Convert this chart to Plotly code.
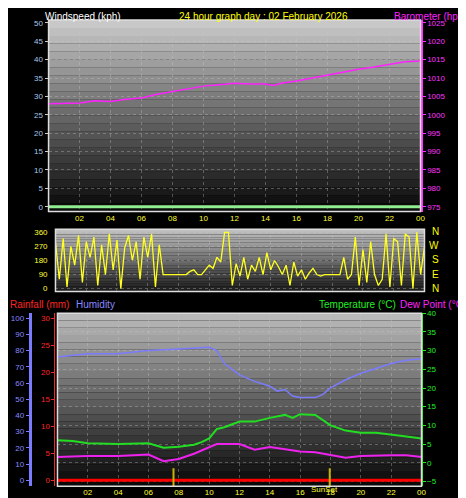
import plotly.graph_objects as go

W, H = 466, 498

# --- data ---
baro_hours = [0, 1, 2, 3, 4, 5, 6, 7, 8, 9, 10, 11, 12, 13, 14, 14.5, 15, 16, 17, 18, 19, 20, 21, 22, 23, 24]
baro_hpa = [1003.0, 1003.0, 1003.2, 1003.8, 1003.6, 1004.2, 1004.6, 1005.6, 1006.4, 1007.0, 1007.8, 1008.2, 1008.6, 1008.4, 1008.4, 1008.0, 1008.6, 1009.2, 1010.0, 1010.8, 1011.6, 1012.4, 1013.0, 1013.8, 1014.4, 1014.6]
wind_hours = [0, 24]
wind_kph = [0, 0]

dir_hours = [i * 0.25 for i in range(97)]
dir_deg = [
    300, 60, 320, 10, 270, 150, 340, 40, 300, 200, 330, 20, 280, 90, 350, 120,
    310, 0, 260, 340, 180, 300, 60, 330, 200, 350, 10, 280, 90, 90, 90, 90,
    90, 90, 90, 110, 120, 90, 90, 120, 150, 130, 200, 170, 360, 360, 20, 160,
    80, 200, 60, 150, 110, 200, 90, 230, 120, 180, 140, 90, 150, 20, 170, 80,
    120, 60, 100, 130, 90, 80, 90, 90, 90, 90, 90, 200, 60, 90, 330, 20,
    250, 40, 300, 90, 20, 60, 350, 10, 320, 300, 20, 350, 330, 0, 360, 90, 270,
]

hum_hours = [0, 2, 4, 6, 8, 10, 10.5, 11, 12, 13, 14, 14.5, 15, 15.5, 16, 17, 17.5, 18, 19, 20, 21, 22, 23, 24]
humidity = [76, 78, 78, 80, 81, 82, 80, 72, 65, 61, 58, 55, 56, 52, 51, 51, 53, 57, 62, 66, 69, 72, 74, 75]

temp_hours = [0, 1, 2, 4, 6, 7, 8, 9, 9.5, 10, 10.5, 11, 12, 13, 14, 15, 15.5, 16, 17, 18, 19, 20, 21, 22, 23, 24]
temperature = [6.0, 5.8, 5.2, 5.0, 5.2, 4.0, 4.3, 4.8, 5.5, 6.5, 9.0, 9.5, 11.0, 11.0, 12.0, 12.8, 12.0, 13.0, 12.8, 10.0, 8.6, 8.0, 8.0, 7.6, 7.0, 6.5]
dew_hours = [0, 2, 4, 6, 7, 8, 9, 10, 10.5, 11, 12, 13, 14, 15, 16, 17, 18, 19, 20, 21, 22, 23, 24]
dewpoint = [1.5, 1.8, 1.8, 2.2, 0.4, 1.0, 2.4, 4.0, 5.0, 5.0, 5.0, 3.5, 4.2, 3.6, 3.0, 2.8, 2.0, 1.3, 1.8, 2.0, 2.0, 2.0, 1.5]
rain_hours = [0, 24]
rain_mm = [0, 0]
sun_hours = [7.65, 17.95]

tick_vals = [2, 4, 6, 8, 10, 12, 14, 16, 18, 20, 22, 24]
tick_text = ["02", "04", "06", "08", "10", "12", "14", "16", "18", "20", "22", "00"]

FONT = "Liberation Sans"


def px_x(p):
    return p / W


def px_y(p):
    return 1 - p / H


fig = go.Figure()

# top panel
fig.add_trace(go.Scatter(x=wind_hours, y=wind_kph, mode="lines", line=dict(color="#90ee90", width=3),
                         xaxis="x", yaxis="y"))
fig.add_trace(go.Scatter(x=baro_hours, y=baro_hpa, mode="lines", line=dict(color="#ff22ff", width=1.5),
                         xaxis="x", yaxis="y2"))
# wind direction
fig.add_trace(go.Scatter(x=dir_hours, y=dir_deg, mode="lines", line=dict(color="#ffff22", width=1.3),
                         xaxis="x2", yaxis="y3"))
# bottom panel
fig.add_trace(go.Scatter(x=hum_hours, y=humidity, mode="lines", line=dict(color="#7b7bff", width=1.5),
                         xaxis="x3", yaxis="y4"))
fig.add_trace(go.Scatter(x=rain_hours, y=rain_mm, mode="lines", line=dict(color="#ff0000", width=3),
                         xaxis="x3", yaxis="y5"))
fig.add_trace(go.Scatter(x=temp_hours, y=temperature, mode="lines", line=dict(color="#22dd22", width=2),
                         xaxis="x3", yaxis="y6"))
fig.add_trace(go.Scatter(x=dew_hours, y=dewpoint, mode="lines", line=dict(color="#ee22ee", width=2),
                         xaxis="x3", yaxis="y6"))
for h in sun_hours:
    fig.add_trace(go.Scatter(x=[h, h], y=[-6.3, -1.5], mode="lines", line=dict(color="#c8b400", width=2),
                             xaxis="x3", yaxis="y6"))

panels = [  # (x0, x1, y0, y1) in pixels, light -> dark gradient
    (41, 417, 8, 202, 200, 10),
    (48, 421, 220, 283, 190, 30),
    (50, 418, 305, 480, 185, 10),
]
shapes = []
for x0, x1, y0, y1, top, bot in panels:
    n = 24
    for i in range(n):
        g = int(top + (bot - top) * i / (n - 1))
        shapes.append(dict(type="rect", xref="paper", yref="paper", layer="below",
                           x0=px_x(x0), x1=px_x(x1),
                           y0=px_y(y0 + (y1 - y0) * (i + 1) / n), y1=px_y(y0 + (y1 - y0) * i / n),
                           fillcolor=f"rgb({g},{g},{g})", line=dict(width=0)))
    shapes.append(dict(type="rect", xref="paper", yref="paper", x0=px_x(x0), x1=px_x(x1),
                       y0=px_y(y1), y1=px_y(y0), line=dict(color="#dddddd", width=1.5)))

grid = dict(showgrid=True, gridcolor="rgba(200,200,200,0.35)", griddash="dot", zeroline=False)
tickf = dict(size=8, family=FONT)

xcommon = dict(range=[0, 24], tickvals=tick_vals, ticktext=tick_text, tickfont=dict(color="#ffff33", **tickf),
               ticks="", **grid)

fig.update_layout(
    width=W, height=H, margin=dict(l=0, r=0, t=0, b=0),
    paper_bgcolor="black", plot_bgcolor="rgba(0,0,0,0)", showlegend=False,
    font=dict(family=FONT, size=10),
    shapes=shapes,
    xaxis=dict(domain=[px_x(41), px_x(417)], anchor="y", **xcommon),
    yaxis=dict(domain=[px_y(202), px_y(8)], range=[-1.3, 50.8], tickvals=list(range(0, 51, 5)),
               tickfont=dict(color="#a8c8e8", **tickf), ticks="outside", ticklen=3, tickcolor="#cccccc", **grid),
    yaxis2=dict(overlaying="y", side="right", anchor="x", range=[973.7, 1025.8], tickvals=list(range(975, 1026, 5)),
                tickfont=dict(color="#ff33ff", **tickf), ticks="outside", ticklen=3, tickcolor="#ff33ff",
                showgrid=False, zeroline=False, showline=True, linecolor="#ff33ff", linewidth=2),
    xaxis2=dict(domain=[px_x(48), px_x(421)], anchor="y3", showticklabels=False, **{k: v for k, v in xcommon.items() if k != "tickfont"}),
    yaxis3=dict(domain=[px_y(283), px_y(220)], range=[-19, 379], tickvals=[0, 90, 180, 270, 360],
                tickfont=dict(color="#ffff33", size=8, family=FONT), ticks="", **grid),
    xaxis3=dict(domain=[px_x(50), px_x(418)], anchor="y6", **xcommon),
    yaxis4=dict(domain=[px_y(480), px_y(305)], anchor="free", position=px_x(22), range=[-3.7, 103],
                tickvals=list(range(0, 101, 10)), tickfont=dict(color="#8888ff", **tickf),
                ticks="outside", ticklen=3, tickcolor="#7b7bff", showline=True, linecolor="#7b7bff", linewidth=3,
                showgrid=False, zeroline=False),
    yaxis5=dict(overlaying="y4", anchor="free", position=px_x(47), range=[-1.1, 30.9],
                tickvals=list(range(0, 31, 5)), tickfont=dict(color="#ff2222", **tickf),
                ticks="outside", ticklen=3, tickcolor="#ff2222", showline=True, linecolor="#ff2222",
                showgrid=False, zeroline=False),
    yaxis6=dict(overlaying="y4", side="right", anchor="x3", range=[-6.3, 40],
                tickvals=list(range(-5, 41, 5)), tickfont=dict(color="#22ee22", **tickf),
                ticks="outside", ticklen=3, tickcolor="#22ee22", showline=True, linecolor="#22ee22",
                **grid),
)

ann = [
    (35, 5, "Windspeed (kph)", "white", "left"),
    (258, 5, "24 hour graph day : 02 February 2026", "#ffff00", "center"),
    (466, 5, "Barometer (hpa)", "#ff22ff", "right"),
    (0, 296, "Rainfall (mm)", "#ff2222", "left"),
    (67, 296, "Humidity", "#8888ff", "left"),
    (312, 296, "Temperature (°C)", "#22ee22", "left"),
    (465, 296, "Dew Point (°C)", "#ff22ff", "right"),
]
annotations = [dict(xref="paper", yref="paper", x=px_x(x), y=px_y(y), text=t, showarrow=False,
                    font=dict(color=c, size=10, family=FONT), xanchor=a, yanchor="middle")
               for x, y, t, c, a in ann]
for i, d in enumerate(["N", "W", "S", "E", "N"]):
    annotations.append(dict(xref="paper", yref="paper", x=px_x(438), y=px_y(222 + i * 14.5), text=d,
                            showarrow=False, font=dict(color="#ffff00", size=10, family=FONT)))
annotations.append(dict(xref="x3", yref="paper", x=17.6, y=px_y(490), text="SunSet", showarrow=False,
                        font=dict(color="#ffff33", size=8, family=FONT)))
fig.update_layout(annotations=annotations)

fig.write_html("out.html")
